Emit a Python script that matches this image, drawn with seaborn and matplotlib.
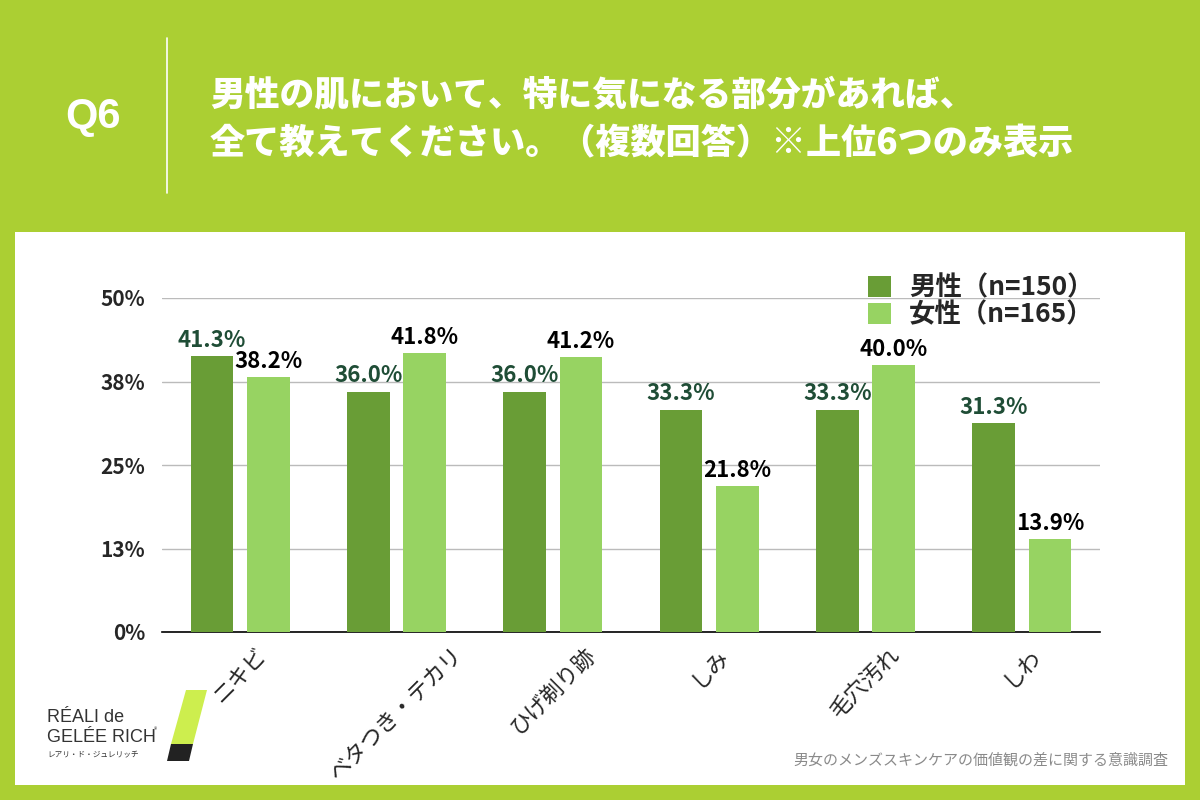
import matplotlib
matplotlib.use("Agg")
import matplotlib.pyplot as plt
from matplotlib.patches import Rectangle, Polygon
import seaborn as sns
import pandas as pd

# ---- data ----
categories = ["ニキビ", "ベタつき・テカリ", "ひげ剃り跡", "しみ", "毛穴汚れ", "しわ"]
male_values = [41.3, 36.0, 36.0, 33.3, 33.3, 31.3]
female_values = [38.2, 41.8, 41.2, 21.8, 40.0, 13.9]
series_names = ["男性（n=150）", "女性（n=165）"]
ytick_values = [0, 12.5, 25, 37.5, 50]
ytick_labels = ["0%", "13%", "25%", "38%", "50%"]
title_lines = ["男性の肌において、特に気になる部分があれば、",
               "全て教えてください。（複数回答）※上位6つのみ表示"]
question_label = "Q6"
footer_text = "男女のメンズスキンケアの価値観の差に関する意識調査"

df = pd.DataFrame({
    "category": categories * 2,
    "series": [series_names[0]] * len(categories) + [series_names[1]] * len(categories),
    "value": male_values + female_values,
})

BG = "#ABCF33"
MALE = "#699D36"
FEMALE = "#97D362"
MALE_LABEL = "#1F4D36"

sns.set_theme(style="white")
plt.rcParams["font.family"] = ["Noto Sans CJK JP", "DejaVu Sans"]

W, H = 1200, 800
fig = plt.figure(figsize=(12, 8), dpi=100, facecolor=BG)

def px(x, y):
    return x / W, 1 - y / H

# white panel
fig.patches.append(Rectangle((15 / W, 1 - 785 / H), 1170 / W, 553 / H,
                             transform=fig.transFigure, facecolor="white",
                             edgecolor="none", zorder=-10))

# header
fig.text(*px(93, 117), question_label, color="white", fontsize=30,
         fontweight="bold", ha="center", va="center",
         family=["Liberation Sans", "DejaVu Sans"])
fig.add_artist(plt.Line2D([167 / W, 167 / W], [1 - 38 / H, 1 - 193 / H],
                          color="white", lw=1.2, transform=fig.transFigure))
fig.text(*px(210, 95), title_lines[0], color="white", fontsize=25,
         fontweight="heavy", ha="left", va="center")
fig.text(*px(210, 143), title_lines[1], color="white", fontsize=25.3,
         fontweight="heavy", ha="left", va="center")

# axes
ax = fig.add_axes([162 / W, 1 - 632 / H, (1100 - 162) / W, (632 - 298) / H])
ax.set_zorder(5)
ax.set_facecolor("none")
sns.barplot(data=df, x="category", y="value", hue="series",
            palette=[MALE, FEMALE], width=0.72, gap=0.24,
            saturation=1, ax=ax, legend=False, zorder=3,
            linewidth=0, edgecolor="none")

ax.set_xlim(-0.5, len(categories) - 0.5)
ax.set_ylim(0, 50)
ax.set_yticks(ytick_values)
ax.set_yticklabels(ytick_labels, fontsize=15, fontweight="bold")
ax.yaxis.grid(True, color="#BBBBBB", lw=1, zorder=0)
ax.set_axisbelow(True)
for s in ["top", "right", "left"]:
    ax.spines[s].set_visible(False)
ax.spines["bottom"].set_color("black")
ax.spines["bottom"].set_linewidth(1.2)
ax.tick_params(axis="both", length=0)
ax.tick_params(axis="y", pad=12)
ax.tick_params(axis="x", pad=8)
ax.set_xlabel("")
ax.set_ylabel("")

ax.set_xticks(range(len(categories)))
ax.set_xticklabels(categories, rotation=45, ha="center", va="top",
                   fontsize=16)

# bar labels
label_colors = [MALE_LABEL, "black"]
for cont, col in zip(ax.containers, label_colors):
    ax.bar_label(cont, fmt="%.1f%%", padding=3, fontsize=16,
                 fontweight="bold", color=col)

# legend
handles = [Rectangle((0, 0), 1, 1, facecolor=MALE, edgecolor="none"),
           Rectangle((0, 0), 1, 1, facecolor=FEMALE, edgecolor="none")]
leg = fig.legend(handles, series_names, loc="upper left",
                 bbox_to_anchor=px(855, 261), frameon=False,
                 prop={"size": 19, "weight": "bold"},
                 handlelength=0.85, handleheight=0.85, handletextpad=0.7,
                 labelspacing=0.0, borderpad=0)
leg.set_zorder(6)

# logo
fig.text(*px(47, 717), "RÉALI de", fontsize=13, ha="left", va="center",
         color="#333333", family=["Liberation Sans Narrow", "Liberation Sans"])
fig.text(*px(47, 738), "GELÉE RICH", fontsize=13, ha="left", va="center",
         color="#333333", family=["Liberation Sans Narrow", "Liberation Sans"])
fig.text(*px(154, 730), "®", fontsize=5, ha="left", va="center", color="#333333")
fig.text(*px(47, 754), "レアリ・ド・ジュレリッチ", fontsize=5.5, ha="left",
         va="center", color="#333333")
lime = [px(186, 690), px(207, 690), px(193, 744), px(171, 744)]
dark = [px(171, 744), px(193, 744), px(189, 761), px(167, 761)]
fig.patches.append(Polygon(lime, closed=True, transform=fig.transFigure,
                           facecolor="#CDEE4E", edgecolor="none"))
fig.patches.append(Polygon(dark, closed=True, transform=fig.transFigure,
                           facecolor="#222222", edgecolor="none"))

# footer
fig.text(*px(1168, 760), footer_text, fontsize=10.8, color="#8A8A8A",
         ha="right", va="center")

fig.savefig("out.png", dpi=100, facecolor=BG)
